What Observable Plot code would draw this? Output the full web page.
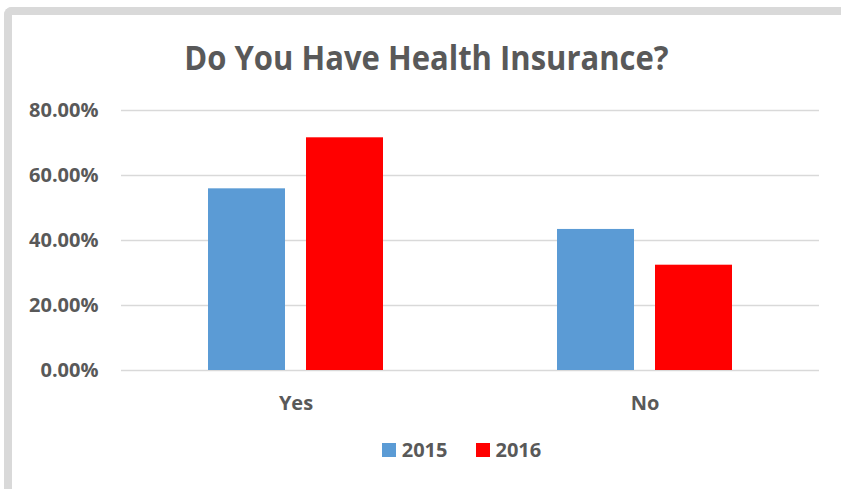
<!DOCTYPE html>
<html>
<head>
<meta charset="utf-8">
<script src="https://cdn.jsdelivr.net/npm/d3@7"></script>
<script src="https://cdn.jsdelivr.net/npm/@observablehq/plot@0.6"></script>
<style>
  html, body { margin: 0; padding: 0; background: #fff; }
  body { width: 841px; height: 489px; position: relative; overflow: hidden; font-family: "Open Sans", sans-serif; }
  #frame { position: absolute; left: 4px; top: 7px; width: 900px; height: 600px; box-sizing: border-box;
           border-left: 8px solid #d9d9d9; border-top: 8px solid #d9d9d9; border-top-left-radius: 8px; }
  #title { position: absolute; left: 12px; width: 829px; top: 38px; line-height: 40px; text-align: center;
           font-family: "Open Sans", sans-serif; font-weight: 700; font-size: 31px; color: #595959; margin: 0;
           transform: scaleY(1.1); transform-origin: 50% 80%; }
  #chart { position: absolute; left: 0; top: 90px; }
  #legend { position: absolute; left: 0; width: 923px; top: 436px; display: flex; justify-content: center; }
  #legend .plot-swatches, #legend div { font-family: "Open Sans", sans-serif !important; font-size: 20px !important;
           font-weight: 700 !important; color: #595959 !important; margin: 0 !important; min-height: 0 !important; }
  #legend span { margin-right: 28px !important; }
  #legend span:last-child { margin-right: 0 !important; }
  #legend svg { margin-right: 6px !important; }
</style>
</head>
<body>
<div id="frame"></div>
<h2 id="title">Do You Have Health Insurance?</h2>
<div id="chart"></div>
<div id="legend"></div>
<script>
const categories = ["Yes", "No"];
const years = ["2015", "2016"];
const values2015 = [55.9, 43.4];
const values2016 = [71.6, 32.4];
const colors = ["#5B9BD5", "#FF0000"];
const yTicks = [0, 20, 40, 60, 80];

const data = [];
categories.forEach((c, i) => {
  data.push({category: c, year: years[0], value: values2015[i]});
  data.push({category: c, year: years[1], value: values2016[i]});
});

const textColor = "#595959";
const plot = Plot.plot({
  width: 841,
  height: 340,
  marginLeft: 120,
  marginRight: 22,
  marginTop: 20,
  marginBottom: 60,
  style: {fontFamily: "Open Sans, sans-serif", fontSize: "20px", fontWeight: "bold", color: textColor, background: "transparent", overflow: "visible"},
  fx: {domain: categories, padding: 0, axis: "bottom", tickSize: 0, tickPadding: 25, label: null},
  x: {domain: years, paddingInner: 0.212, paddingOuter: 0.871, axis: null},
  y: {domain: [0, 80], ticks: yTicks, tickFormat: d => d.toFixed(2) + "%", tickSize: 0, tickPadding: 23, label: null},
  color: {domain: years, range: colors},
  marks: [
    Plot.ruleY(yTicks, {stroke: "#d9d9d9", strokeWidth: 1.5}),
    Plot.barY(data, {fx: "category", x: "year", y: "value", fill: "year"})
  ]
});
document.getElementById("chart").appendChild(plot);

const legend = plot.legend("color", {swatchSize: 14});
document.getElementById("legend").appendChild(legend);
</script>
</body>
</html>
